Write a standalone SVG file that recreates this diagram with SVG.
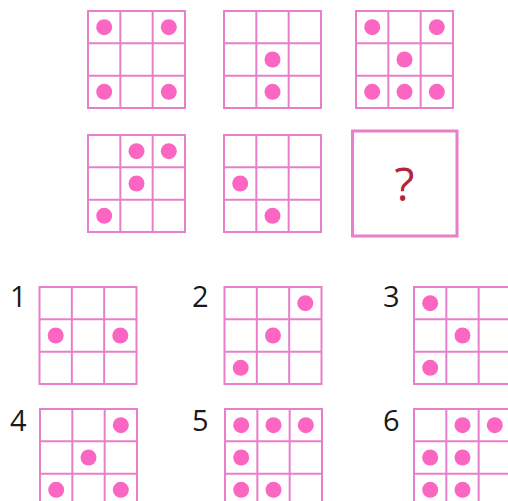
<svg xmlns="http://www.w3.org/2000/svg" xmlns:xlink="http://www.w3.org/1999/xlink" width="508" height="501" viewBox="0 0 508 501">
  <style>
    .grid line, .grid rect { stroke: #e97fc9; stroke-width: 2; fill: none; }
    .dot { fill: #fc66c3; }
    .lbl { font-family: "Open Sans", "Liberation Sans", sans-serif; font-size: 29px; fill: #1a1a1a; }
    .q { font-family: "Open Sans", "Liberation Sans", sans-serif; font-size: 46px; fill: #b3253c; }
    .qbox { stroke: #e97fc9; stroke-width: 3; fill: #ffffff; }
  </style>
  <defs>
    <g id="grid" class="grid">
      <rect x="0" y="0" width="97" height="97"/>
      <line x1="32.33" y1="0" x2="32.33" y2="97"/>
      <line x1="64.67" y1="0" x2="64.67" y2="97"/>
      <line x1="0" y1="32.33" x2="97" y2="32.33"/>
      <line x1="0" y1="64.67" x2="97" y2="64.67"/>
    </g>
  </defs>
  <rect width="508" height="501" fill="#ffffff"/>

  <!-- Puzzle row 1 -->
  <g id="p1" transform="translate(88,11)">
    <use xlink:href="#grid"/>
    <circle class="dot" cx="16.2" cy="16.2" r="8"/>
    <circle class="dot" cx="80.8" cy="16.2" r="8"/>
    <circle class="dot" cx="16.2" cy="80.8" r="8"/>
    <circle class="dot" cx="80.8" cy="80.8" r="8"/>
  </g>
  <g id="p2" transform="translate(224,11)">
    <use xlink:href="#grid"/>
    <circle class="dot" cx="48.5" cy="48.5" r="8"/>
    <circle class="dot" cx="48.5" cy="80.8" r="8"/>
  </g>
  <g id="p3" transform="translate(356,11)">
    <use xlink:href="#grid"/>
    <circle class="dot" cx="16.2" cy="16.2" r="8"/>
    <circle class="dot" cx="80.8" cy="16.2" r="8"/>
    <circle class="dot" cx="48.5" cy="48.5" r="8"/>
    <circle class="dot" cx="16.2" cy="80.8" r="8"/>
    <circle class="dot" cx="48.5" cy="80.8" r="8"/>
    <circle class="dot" cx="80.8" cy="80.8" r="8"/>
  </g>

  <!-- Puzzle row 2 -->
  <g id="p4" transform="translate(88,135)">
    <use xlink:href="#grid"/>
    <circle class="dot" cx="48.5" cy="16.2" r="8"/>
    <circle class="dot" cx="80.8" cy="16.2" r="8"/>
    <circle class="dot" cx="48.5" cy="48.5" r="8"/>
    <circle class="dot" cx="16.2" cy="80.8" r="8"/>
  </g>
  <g id="p5" transform="translate(224,135)">
    <use xlink:href="#grid"/>
    <circle class="dot" cx="16.2" cy="48.5" r="8"/>
    <circle class="dot" cx="48.5" cy="80.8" r="8"/>
  </g>
  <g id="p6">
    <rect class="qbox" x="352.5" y="131" width="104.5" height="105"/>
    <text class="q" x="404.5" y="200.5" text-anchor="middle">?</text>
  </g>

  <!-- Options -->
  <g id="opt1">
    <text class="lbl" x="10" y="307">1</text>
    <g transform="translate(39.5,287)">
      <use xlink:href="#grid"/>
      <circle class="dot" cx="16.2" cy="48.5" r="8"/>
      <circle class="dot" cx="80.8" cy="48.5" r="8"/>
    </g>
  </g>
  <g id="opt2">
    <text class="lbl" x="192" y="307">2</text>
    <g transform="translate(224.5,287)">
      <use xlink:href="#grid"/>
      <circle class="dot" cx="80.8" cy="16.2" r="8"/>
      <circle class="dot" cx="48.5" cy="48.5" r="8"/>
      <circle class="dot" cx="16.2" cy="80.8" r="8"/>
    </g>
  </g>
  <g id="opt3">
    <text class="lbl" x="383" y="307">3</text>
    <g transform="translate(414,287)">
      <use xlink:href="#grid"/>
      <circle class="dot" cx="16.2" cy="16.2" r="8"/>
      <circle class="dot" cx="48.5" cy="48.5" r="8"/>
      <circle class="dot" cx="16.2" cy="80.8" r="8"/>
    </g>
  </g>
  <g id="opt4">
    <text class="lbl" x="10" y="431">4</text>
    <g transform="translate(40,409)">
      <use xlink:href="#grid"/>
      <circle class="dot" cx="80.8" cy="16.2" r="8"/>
      <circle class="dot" cx="48.5" cy="48.5" r="8"/>
      <circle class="dot" cx="16.2" cy="80.8" r="8"/>
      <circle class="dot" cx="80.8" cy="80.8" r="8"/>
    </g>
  </g>
  <g id="opt5">
    <text class="lbl" x="192" y="431">5</text>
    <g transform="translate(225,409)">
      <use xlink:href="#grid"/>
      <circle class="dot" cx="16.2" cy="16.2" r="8"/>
      <circle class="dot" cx="48.5" cy="16.2" r="8"/>
      <circle class="dot" cx="80.8" cy="16.2" r="8"/>
      <circle class="dot" cx="16.2" cy="48.5" r="8"/>
      <circle class="dot" cx="16.2" cy="80.8" r="8"/>
      <circle class="dot" cx="48.5" cy="80.8" r="8"/>
    </g>
  </g>
  <g id="opt6">
    <text class="lbl" x="383" y="431">6</text>
    <g transform="translate(414,409)">
      <use xlink:href="#grid"/>
      <circle class="dot" cx="48.5" cy="16.2" r="8"/>
      <circle class="dot" cx="80.8" cy="16.2" r="8"/>
      <circle class="dot" cx="16.2" cy="48.5" r="8"/>
      <circle class="dot" cx="48.5" cy="48.5" r="8"/>
      <circle class="dot" cx="16.2" cy="80.8" r="8"/>
      <circle class="dot" cx="48.5" cy="80.8" r="8"/>
    </g>
  </g>
  <g id="connectors"/>
</svg>
